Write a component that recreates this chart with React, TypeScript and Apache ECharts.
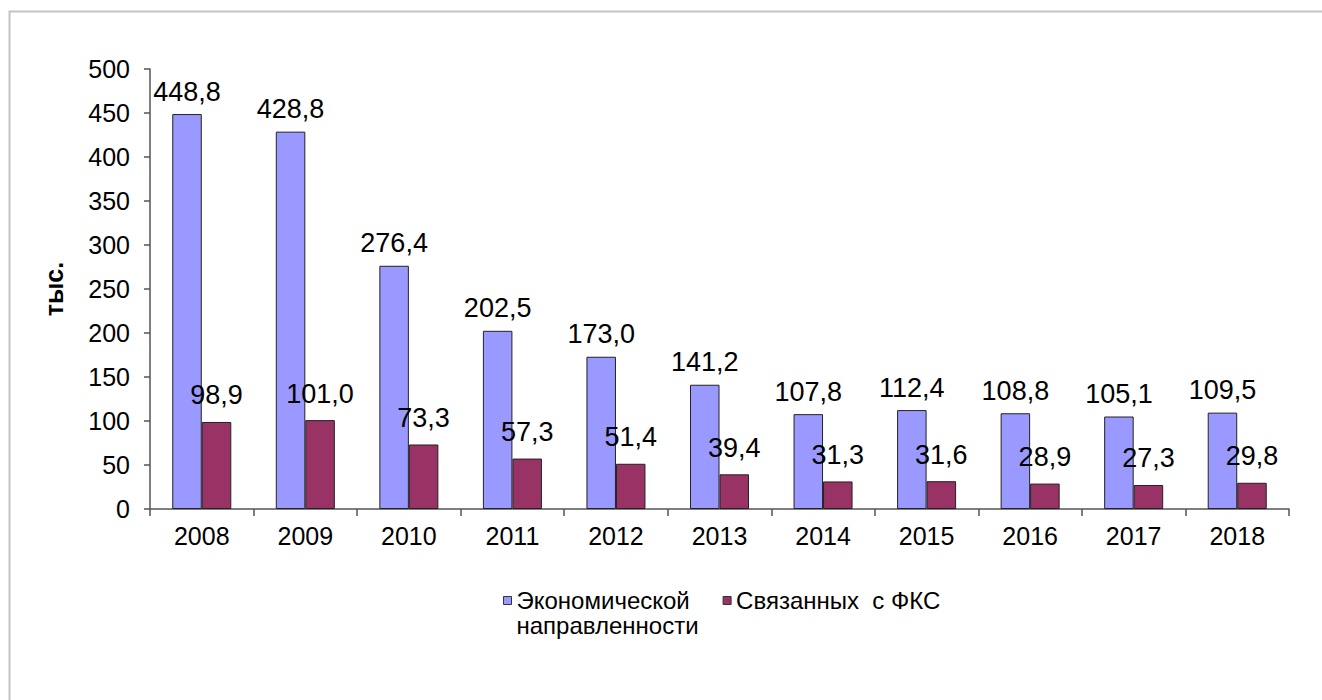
import React, { useEffect, useRef } from "react";
import * as echarts from "echarts";

const years = ["2008", "2009", "2010", "2011", "2012", "2013", "2014", "2015", "2016", "2017", "2018"];
const economic = [448.8, 428.8, 276.4, 202.5, 173.0, 141.2, 107.8, 112.4, 108.8, 105.1, 109.5];
const fks = [98.9, 101.0, 73.3, 57.3, 51.4, 39.4, 31.3, 31.6, 28.9, 27.3, 29.8];
const seriesNames = ["Экономической направленности", "Связанных с ФКС"];
const legendLabels = ["Экономической\nнаправленности", "Связанных  с ФКС\n "];
const yAxisName = "тыс.";

const FONT = "'Liberation Sans', Arial, sans-serif";
const fmt = (v: number) => v.toFixed(1).replace(".", ",");
// square marker placed at the top of a tall legend icon box so it lines up with the first text line
const LEGEND_ICON = "path://M0,0M0,8.5h8v8h-8zM8,50";

export default function App() {
  const ref = useRef<HTMLDivElement>(null);
  useEffect(() => {
    if (!ref.current) return;
    const chart = echarts.init(ref.current, undefined, { renderer: "svg" });
    const label = {
      show: true,
      position: "top" as const,
      distance: 9,
      color: "#000",
      fontFamily: FONT,
      fontSize: 27,
      formatter: (p: any) => fmt(p.value),
    };
    chart.setOption({
      animation: false,
      backgroundColor: "#fff",
      textStyle: { fontFamily: FONT },
      graphic: [
        {
          type: "rect",
          shape: { x: 9.5, y: 11.5, width: 1400, height: 800 },
          style: { fill: "none", stroke: "#c4c4c4", lineWidth: 2 },
          silent: true,
        },
      ],
      grid: { left: 150, right: 33, top: 69, bottom: 191 },
      legend: {
        left: 503,
        top: 587.5,
        padding: 0,
        itemWidth: 8,
        itemHeight: 50,
        itemGap: 24,
        icon: LEGEND_ICON,
        data: seriesNames,
        formatter: (name: string) => legendLabels[seriesNames.indexOf(name)],
        textStyle: {
          fontFamily: FONT,
          fontSize: 24,
          color: "#000",
          lineHeight: 25,
        },
        itemStyle: { borderColor: "#333", borderWidth: 1 },
      },
      xAxis: {
        type: "category",
        data: years,
        axisLine: { lineStyle: { color: "#555", width: 1.5 } },
        axisTick: { show: true, length: 7, lineStyle: { color: "#555", width: 1.5 } },
        axisLabel: { color: "#000", fontSize: 25, fontFamily: FONT, margin: 14 },
      },
      yAxis: {
        type: "value",
        min: 0,
        max: 500,
        interval: 50,
        name: yAxisName,
        nameLocation: "middle",
        nameGap: 84,
        nameRotate: 90,
        nameTextStyle: { color: "#000", fontSize: 25, fontWeight: "bold", fontFamily: FONT },
        splitLine: { show: false },
        axisLine: { show: true, lineStyle: { color: "#555", width: 1.5 } },
        axisTick: { show: true, length: 6, lineStyle: { color: "#555", width: 1.5 } },
        axisLabel: { color: "#000", fontSize: 25, fontFamily: FONT, margin: 20 },
      },
      series: [
        {
          name: seriesNames[0],
          type: "bar",
          data: economic,
          barGap: "0%",
          barCategoryGap: "43%",
          itemStyle: { color: "#9999FF", borderColor: "#222", borderWidth: 1 },
          label,
        },
        {
          name: seriesNames[1],
          type: "bar",
          data: fks,
          barGap: "0%",
          barCategoryGap: "43%",
          itemStyle: { color: "#993366", borderColor: "#222", borderWidth: 1 },
          label: { ...label, distance: 13 },
        },
      ],
    });
    return () => chart.dispose();
  }, []);
  return (
    <div
      ref={ref}
      style={{ position: "absolute", left: 0, top: 0, width: 1322, height: 700 }}
    />
  );
}
